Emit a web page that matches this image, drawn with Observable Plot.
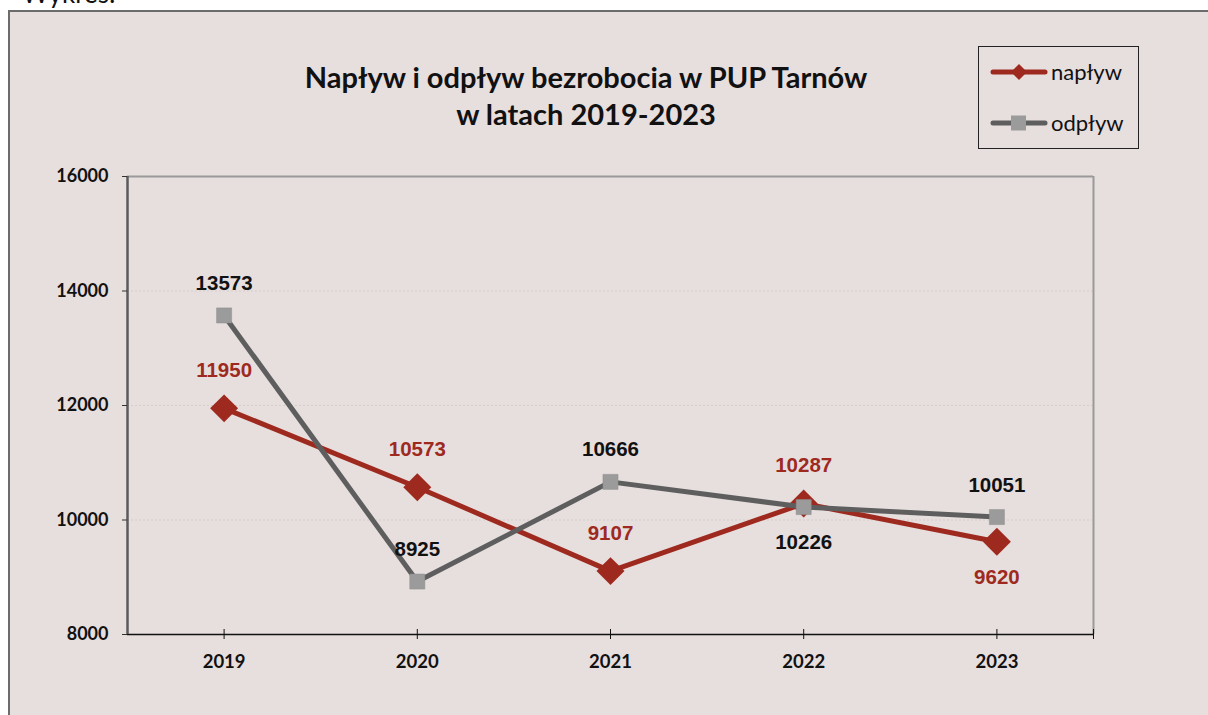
<!DOCTYPE html>
<html>
<head>
<meta charset="utf-8">
<script src="https://cdn.jsdelivr.net/npm/d3@7"></script>
<script src="https://cdn.jsdelivr.net/npm/@observablehq/plot@0.6"></script>
<style>
  html, body { margin: 0; padding: 0; background: #ffffff; overflow: hidden; }
  body { width: 1208px; height: 715px; position: relative; font-family: Lato, "Open Sans", sans-serif; }
  #pre { position: absolute; left: 22px; top: -20px; font-size: 26px; line-height: 26px; color: #111; }
  #box { position: absolute; left: 8px; top: 10px; width: 1230px; height: 730px; border: 2px solid #6c6c6c; background: #e7dede; }
  #chart { position: absolute; left: 0; top: 0; }
  #title { position: absolute; left: 236px; top: 58px; width: 700px; text-align: center; font-weight: bold; font-size: 29px; line-height: 37px; color: #111; }
  #legend { position: absolute; left: 978px; top: 46px; }
</style>
</head>
<body>
<div id="pre">Wykres:</div>
<div id="box"></div>
<div id="chart"></div>
<div id="title">Napływ i odpływ bezrobocia w PUP Tarnów<br>w latach 2019-2023</div>
<div id="legend"></div>
<script>
const years = ["2019", "2020", "2021", "2022", "2023"];
const naplyw = [11950, 10573, 9107, 10287, 9620];
const odplyw = [13573, 8925, 10666, 10226, 10051];
const yTicks = [8000, 10000, 12000, 14000, 16000];
const seriesNames = ["napływ", "odpływ"];

const RED = "#9e2a1f";
const GRAY_LINE = "#5e5e5e";
const GRAY_MARK = "#9b9b9b";

const rows = years.map((year, i) => ({ i, year, naplyw: naplyw[i], odplyw: odplyw[i] }));
// label below the marker when this series is the lower one and the two values are close
const nBelow = (d) => d.naplyw < d.odplyw && d.odplyw - d.naplyw < 1000;
const oBelow = (d) => d.odplyw < d.naplyw && d.naplyw - d.odplyw < 1000;

const LABEL_FONT = "Liberation Sans, Arial, sans-serif";

const chart = Plot.plot({
  width: 1208,
  height: 715,
  marginLeft: 127,
  marginRight: 115,
  marginTop: 176,
  marginBottom: 81,
  style: { background: "transparent", fontFamily: "Lato, sans-serif", overflow: "visible", color: "#111" },
  x: { type: "linear", domain: [-0.5, years.length - 0.5] },
  y: { domain: [8000, 16000] },
  marks: [
    Plot.ruleY([10000, 12000, 14000], { stroke: "#d6cccc", strokeWidth: 1, strokeDasharray: "2,2" }),
    Plot.ruleY([16000], { stroke: "#9a9a9a", strokeWidth: 2 }),
    Plot.ruleX([years.length - 0.5], { stroke: "#9a9a9a", strokeWidth: 2 }),
    Plot.ruleY([8000], { stroke: "#111", strokeWidth: 1.3 }),
    Plot.ruleX([...years.map((_, i) => i), years.length - 0.5], { y1: 8000, y2: 8000, insetTop: -5, insetBottom: -5, stroke: "#111", strokeWidth: 1 }),
    Plot.ruleX([-0.5], { stroke: "#5a5a5a", strokeWidth: 2.5 }),
    Plot.axisY({ ticks: yTicks, tickSize: 5, tickPadding: 14, tickFormat: d3.format("d"), fontSize: 18, fontWeight: "bold", stroke: "#333", label: null }),
    Plot.axisX({ ticks: years.map((_, i) => i), tickFormat: (i) => years[i], tickSize: 0, tickPadding: 20, fontSize: 18.5, fontWeight: "bold", label: null }),
    // napływ
    Plot.line(rows, { x: "i", y: "naplyw", stroke: RED, strokeWidth: 5 }),
    Plot.dot(rows, { x: "i", y: "naplyw", symbol: "diamond2", r: 12.6, fill: RED, stroke: "none" }),
    // odpływ
    Plot.line(rows, { x: "i", y: "odplyw", stroke: GRAY_LINE, strokeWidth: 5 }),
    Plot.dot(rows, { x: "i", y: "odplyw", symbol: "square", r: 8.5, fill: GRAY_MARK, stroke: "#8f8f8f", strokeWidth: 0.5 }),
    // labels
    Plot.text(rows.filter((d) => !nBelow(d)), { x: "i", y: "naplyw", text: (d) => String(d.naplyw), dy: -38, fill: RED, fontSize: 20.5, fontWeight: "bold", fontFamily: LABEL_FONT }),
    Plot.text(rows.filter(nBelow), { x: "i", y: "naplyw", text: (d) => String(d.naplyw), dy: 36, fill: RED, fontSize: 20.5, fontWeight: "bold", fontFamily: LABEL_FONT }),
    Plot.text(rows.filter((d) => !oBelow(d)), { x: "i", y: "odplyw", text: (d) => String(d.odplyw), dy: -32, fill: "#111", fontSize: 20.5, fontWeight: "bold", fontFamily: LABEL_FONT }),
    Plot.text(rows.filter(oBelow), { x: "i", y: "odplyw", text: (d) => String(d.odplyw), dy: 35, fill: "#111", fontSize: 20.5, fontWeight: "bold", fontFamily: LABEL_FONT })
  ]
});
document.getElementById("chart").appendChild(chart);

// legend
const lw = 161, lh = 103;
const svg = d3.select("#legend").append("svg").attr("width", lw).attr("height", lh);
svg.append("rect").attr("x", 0.5).attr("y", 0.5).attr("width", lw - 1).attr("height", lh - 1)
  .attr("fill", "none").attr("stroke", "#222").attr("stroke-width", 1);
const entries = [
  { name: seriesNames[0], y: 26, stroke: RED, sym: "diamond" },
  { name: seriesNames[1], y: 77, stroke: GRAY_LINE, sym: "square" }
];
entries.forEach((e) => {
  svg.append("line").attr("x1", 15).attr("x2", 67).attr("y1", e.y).attr("y2", e.y)
    .attr("stroke", e.stroke).attr("stroke-width", 5).attr("stroke-linecap", "round");
  if (e.sym === "diamond") {
    svg.append("path").attr("d", `M41,${e.y - 8}L49,${e.y}L41,${e.y + 8}L33,${e.y}Z`).attr("fill", RED);
  } else {
    svg.append("rect").attr("x", 33).attr("y", e.y - 7.5).attr("width", 15).attr("height", 15).attr("fill", GRAY_MARK);
  }
  svg.append("text").attr("x", 73).attr("y", e.y).attr("dy", "0.35em")
    .attr("font-family", "Lato, sans-serif").attr("font-size", 22).attr("fill", "#111").text(e.name);
});
</script>
</body>
</html>
